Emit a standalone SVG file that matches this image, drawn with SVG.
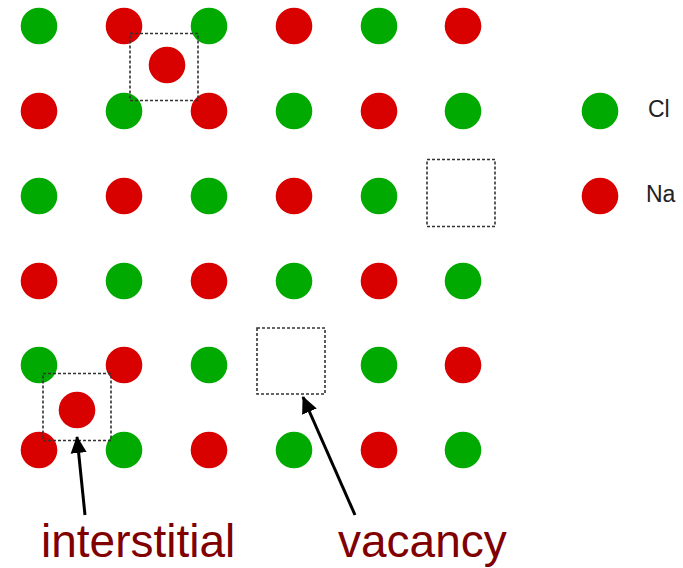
<svg xmlns="http://www.w3.org/2000/svg" width="683" height="568" viewBox="0 0 683 568">
<defs>
<style>
.g{fill:#00aa00}
.r{fill:#d90000}
.box{fill:none;stroke:#333;stroke-width:1.6;stroke-dasharray:3 2}
.lbl{font-family:"Liberation Sans",Arial,sans-serif;font-size:46px;fill:#800000}
.leg{font-family:"Liberation Sans",Arial,sans-serif;font-size:23px;fill:#222}
.arr{stroke:#000;stroke-width:3;fill:none;marker-end:url(#ah)}
</style>
<marker id="ah" markerUnits="userSpaceOnUse" markerWidth="18" markerHeight="18" viewBox="0 0 18 18" refX="16" refY="9" orient="auto">
<path d="M0,1 L17,9 L0,17 Z" fill="#000"/>
</marker>
</defs>
<rect width="683" height="568" fill="#fff"/>
<g id="lattice">
<circle class="g" cx="39" cy="26" r="18.3"/><circle class="r" cx="124" cy="26" r="18.3"/><circle class="g" cx="209" cy="26" r="18.3"/><circle class="r" cx="294" cy="26" r="18.3"/><circle class="g" cx="379" cy="26" r="18.3"/><circle class="r" cx="463" cy="26" r="18.3"/>
<circle class="r" cx="39" cy="111" r="18.3"/><circle class="g" cx="124" cy="111" r="18.3"/><circle class="r" cx="209" cy="111" r="18.3"/><circle class="g" cx="294" cy="111" r="18.3"/><circle class="r" cx="379" cy="111" r="18.3"/><circle class="g" cx="463" cy="111" r="18.3"/>
<circle class="g" cx="39" cy="196" r="18.3"/><circle class="r" cx="124" cy="196" r="18.3"/><circle class="g" cx="209" cy="196" r="18.3"/><circle class="r" cx="294" cy="196" r="18.3"/><circle class="g" cx="379" cy="196" r="18.3"/>
<circle class="r" cx="39" cy="281" r="18.3"/><circle class="g" cx="124" cy="281" r="18.3"/><circle class="r" cx="209" cy="281" r="18.3"/><circle class="g" cx="294" cy="281" r="18.3"/><circle class="r" cx="379" cy="281" r="18.3"/><circle class="g" cx="463" cy="281" r="18.3"/>
<circle class="g" cx="39" cy="365" r="18.3"/><circle class="r" cx="124" cy="365" r="18.3"/><circle class="g" cx="209" cy="365" r="18.3"/><circle class="g" cx="379" cy="365" r="18.3"/><circle class="r" cx="463" cy="365" r="18.3"/>
<circle class="r" cx="39" cy="450" r="18.3"/><circle class="g" cx="124" cy="450" r="18.3"/><circle class="r" cx="209" cy="450" r="18.3"/><circle class="g" cx="294" cy="450" r="18.3"/><circle class="r" cx="379" cy="450" r="18.3"/><circle class="g" cx="463" cy="450" r="18.3"/>
</g>
<g id="interstitial-top">
<rect class="box" x="130" y="33.5" width="68" height="67"/>
<circle class="r" cx="167" cy="65" r="18.3"/>
</g>
<g id="interstitial-bottom">
<rect class="box" x="43" y="373.5" width="68" height="67"/>
<circle class="r" cx="77" cy="410" r="18.3"/>
</g>
<g id="vacancy-top">
<rect class="box" x="427" y="159.5" width="68" height="67"/>
</g>
<g id="vacancy-bottom">
<rect class="box" x="257" y="328" width="68" height="66"/>
</g>
<g id="legend">
<circle class="g" cx="600" cy="111" r="18.3"/>
<text class="leg" x="648" y="117">Cl</text>
<circle class="r" cx="600" cy="196" r="18.3"/>
<text class="leg" x="646" y="202">Na</text>
</g>
<g id="connectors">
<line class="arr" x1="85" y1="515" x2="77" y2="437"/>
<line class="arr" x1="355" y1="515" x2="303" y2="397"/>
</g>
<g id="labels">
<text class="lbl" x="41" y="557">interstitial</text>
<text class="lbl" x="338" y="557">vacancy</text>
</g>
</svg>
